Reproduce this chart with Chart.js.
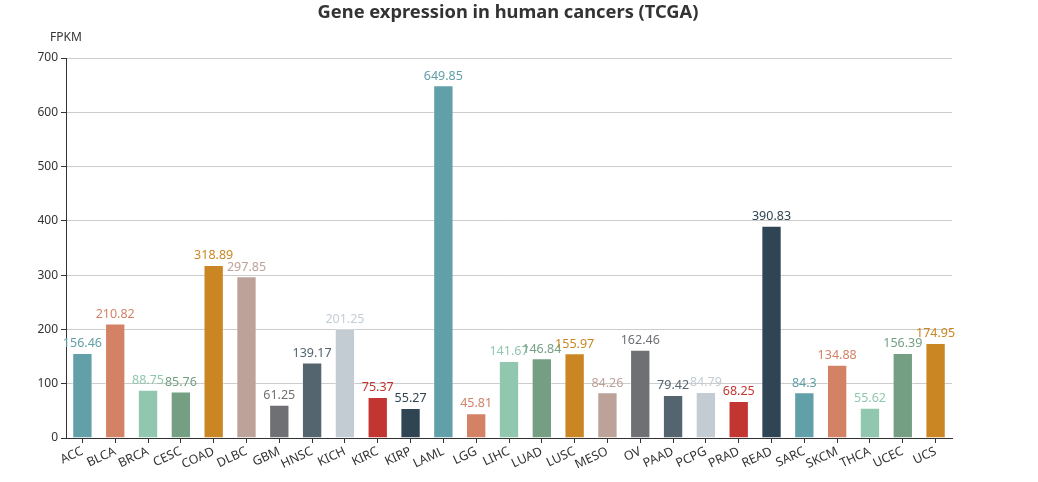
<!DOCTYPE html>
<html><head><meta charset="utf-8">
<script src="https://cdn.jsdelivr.net/npm/chart.js@4/dist/chart.umd.min.js"></script>
<style>html,body{margin:0;padding:0;background:#fff}#wrap{width:1038px;height:482px}</style>
</head><body><div id="wrap"><canvas id="c" width="1038" height="482"></canvas></div>
<script>
const categories = ["ACC","BLCA","BRCA","CESC","COAD","DLBC","GBM","HNSC","KICH","KIRC","KIRP","LAML","LGG","LIHC","LUAD","LUSC","MESO","OV","PAAD","PCPG","PRAD","READ","SARC","SKCM","THCA","UCEC","UCS"];
const values = [156.46,210.82,88.75,85.76,318.89,297.85,61.25,139.17,201.25,75.37,55.27,649.85,45.81,141.67,146.84,155.97,84.26,162.46,79.42,84.79,68.25,390.83,84.3,134.88,55.62,156.39,174.95];
const yTicks = [0,100,200,300,400,500,600,700];
const palette = ['#c23531','#2f4554','#61a0a8','#d48265','#91c7ae','#749f83','#ca8622','#bda29a','#6e7074','#546570','#c4ccd3'];
const titleText = "Gene expression in human cancers (TCGA)";
const yName = "FPKM";

const barColors = categories.map((_, i) => palette[(i + 2) % palette.length]);
const FONT = '"Noto Sans", sans-serif';

const extras = {
  id: 'extras',
  afterDatasetsDraw(chart) {
    const ctx = chart.ctx;
    const meta = chart.getDatasetMeta(0);
    ctx.save();
    ctx.font = '12.5px ' + FONT;
    ctx.textAlign = 'center';
    ctx.textBaseline = 'bottom';
    meta.data.forEach((bar, i) => {
      ctx.fillStyle = barColors[i];
      ctx.fillText(String(values[i]), bar.x, bar.y - 3);
    });
    ctx.restore();
  },
  afterDraw(chart) {
    const ctx = chart.ctx;
    ctx.save();
    ctx.fillStyle = '#333';
    ctx.font = 'bold 18.3px ' + FONT;
    ctx.textAlign = 'center';
    ctx.textBaseline = 'middle';
    ctx.fillText(titleText, 508, 13);
    ctx.font = '12px ' + FONT;
    ctx.fillText(yName, 66, 38);
    ctx.restore();
  }
};

new Chart(document.getElementById('c'), {
  type: 'bar',
  data: {
    labels: categories,
    datasets: [{
      data: values,
      backgroundColor: barColors,
      borderColor: 'rgba(255,255,255,0.35)',
      borderWidth: 1,
      barPercentage: 0.62,
      categoryPercentage: 1.0
    }]
  },
  options: {
    responsive: false,
    animation: false,
    layout: { padding: { top: 58, left: 0, right: 86, bottom: 0 } },
    plugins: { legend: { display: false }, title: { display: false }, tooltip: { enabled: false } },
    scales: {
      x: {
        afterFit(s) { s.height = 44; },
        offset: true,
        grid: { display: true, drawOnChartArea: false, drawTicks: true, tickLength: 5, color: '#333', offset: false },
        border: { display: true, color: '#333', width: 1 },
        ticks: { color: '#333', font: { family: FONT, size: 12.5 }, maxRotation: 25, minRotation: 25, autoSkip: false, padding: 1 }
      },
      y: {
        min: 0, max: 700,
        afterFit(s) { s.width = 66; },
        afterBuildTicks(s) { s.ticks = yTicks.map(v => ({ value: v })); },
        grid: { color: (c) => c.tick && c.tick.value === 0 ? '#333' : '#ccc', drawTicks: true, tickLength: 5, tickColor: '#333' },
        border: { display: true, color: '#333', width: 1 },
        ticks: { color: '#333', font: { family: FONT, size: 12 }, padding: 3 }
      }
    }
  },
  plugins: [extras]
});
</script>
</body></html>
